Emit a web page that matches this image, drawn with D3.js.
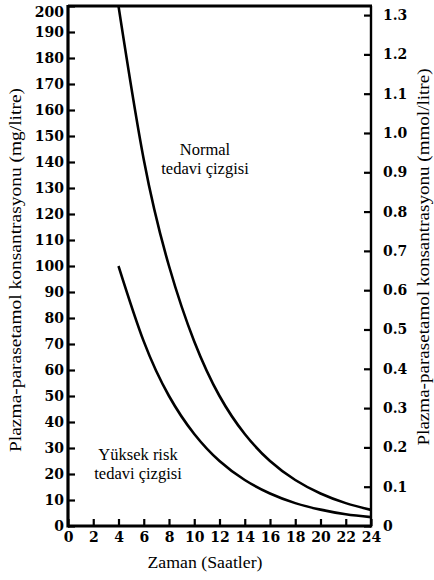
<!DOCTYPE html>
<html>
<head>
<meta charset="utf-8">
<script src="https://cdn.jsdelivr.net/npm/d3@7"></script>
<style>
  body { margin: 0; background: #fff; }
  svg { display: block; }
  text { font-family: "DejaVu Serif", "Liberation Serif", serif; }
  .tick text { font-weight: bold; font-size: 14px; }
  .title { font-family: "Liberation Serif", serif; font-size: 16.5px; }
</style>
</head>
<body>
<div class="chart"></div>
<script>
// values (mg/litre), every 2 hours
const hours = [4, 6, 8, 10, 12, 14, 16, 18, 20, 22, 24];
const normalLine = [200, 141, 100, 71, 50, 35.4, 25, 17.7, 12.5, 8.8, 6.2];
const highRiskLine = [100, 71, 50, 35.4, 25, 17.7, 12.5, 8.8, 6.3, 4.5, 3.4];

const xTicks = [0, 2, 4, 6, 8, 10, 12, 14, 16, 18, 20, 22, 24];
const mgTicks = d3.range(0, 201, 10);
const mmolTicks = d3.range(0, 14).map(d => d / 10);
const mgPerMmol = 151.16;

const width = 434;
const height = 580;

const svg = d3.select(".chart")
    .append("svg")
    .attr("width", width)
    .attr("height", height);

const plotLeft = 68, plotRight = 371, plotTop = 6, plotBottom = 526;

const x = d3.scaleLinear().domain([0, 24]).range([plotLeft, plotRight]);
const y = d3.scaleLinear().domain([0, 200]).range([plotBottom, plotTop]);
const y2 = d3.scaleLinear().domain([0, 200 / mgPerMmol]).range([plotBottom, plotTop]);

// Ejes
const xAxis = svg.append("g")
    .attr("transform", `translate(0,${plotBottom})`)
    .call(d3.axisTop(x).tickValues(xTicks).tickSize(7).tickSizeOuter(0).tickFormat(d3.format("d")));
xAxis.selectAll("text").attr("y", 6).attr("dy", "0.71em");

const yAxis = svg.append("g")
    .attr("transform", `translate(${plotLeft},0)`)
    .call(d3.axisRight(y).tickValues(mgTicks).tickSize(7).tickSizeOuter(0));
yAxis.selectAll("text").attr("x", -4).attr("text-anchor", "end")
    .attr("y", d => d === 200 ? 6 : 0);

const y2Axis = svg.append("g")
    .attr("transform", `translate(${plotRight},0)`)
    .call(d3.axisLeft(y2).tickValues(mmolTicks).tickSize(7).tickSizeOuter(0)
        .tickFormat(d => d === 0 ? "0" : d3.format(".1f")(d)));
y2Axis.selectAll("text").attr("x", 12).attr("text-anchor", "start");

svg.selectAll(".domain").remove();
svg.selectAll("g").attr("font-family", null).attr("font-size", null);
svg.selectAll(".tick line").attr("stroke", "#000").attr("stroke-width", 2.2);
svg.selectAll(".tick text").attr("fill", "#000");

// frame
svg.append("line").attr("x1", plotLeft).attr("x2", plotLeft).attr("y1", plotTop - 1).attr("y2", plotBottom + 1.5)
    .attr("stroke", "#000").attr("stroke-width", 3.2);
svg.append("line").attr("x1", plotLeft).attr("x2", plotRight).attr("y1", plotBottom).attr("y2", plotBottom)
    .attr("stroke", "#000").attr("stroke-width", 3);
svg.append("line").attr("x1", plotLeft).attr("x2", plotRight + 1).attr("y1", plotTop).attr("y2", plotTop)
    .attr("stroke", "#000").attr("stroke-width", 3);
svg.append("line").attr("x1", plotRight).attr("x2", plotRight).attr("y1", plotTop).attr("y2", plotBottom + 1.5)
    .attr("stroke", "#000").attr("stroke-width", 2.4);

// curves
const line = d3.line()
    .x(d => x(d[0]))
    .y(d => y(d[1]))
    .curve(d3.curveNatural);

[normalLine, highRiskLine].forEach(vals => {
    svg.append("path")
        .datum(hours.map((h, i) => [h, vals[i]]))
        .attr("d", line)
        .attr("fill", "none")
        .attr("stroke", "#000")
        .attr("stroke-width", 2.6);
});

// labels
function label(lines, cx, y0){
    lines.forEach((t, i) => {
        svg.append("text")
            .attr("class", "title")
            .attr("x", cx)
            .attr("y", y0 + i * 19)
            .attr("text-anchor", "middle")
            .text(t);
    });
}

label(["Normal", "tedavi çizgisi"], 205, 155);
label(["Yüksek risk", "tedavi çizgisi"], 138, 460);

svg.append("text")
    .attr("class", "title")
    .attr("x", 205)
    .attr("y", 568)
    .attr("text-anchor", "middle")
    .attr("textLength", 115)
    .attr("lengthAdjust", "spacingAndGlyphs")
    .text("Zaman (Saatler)");

svg.append("text")
    .attr("class", "title")
    .attr("transform", "translate(21,270) rotate(-90)")
    .attr("text-anchor", "middle")
    .attr("textLength", 364)
    .attr("lengthAdjust", "spacingAndGlyphs")
    .text("Plazma-parasetamol konsantrasyonu (mg/litre)");

svg.append("text")
    .attr("class", "title")
    .attr("transform", "translate(429,257) rotate(-90)")
    .attr("text-anchor", "middle")
    .attr("textLength", 377)
    .attr("lengthAdjust", "spacingAndGlyphs")
    .text("Plazma-parasetamol konsantrasyonu (mmol/litre)");
</script>
</body>
</html>
